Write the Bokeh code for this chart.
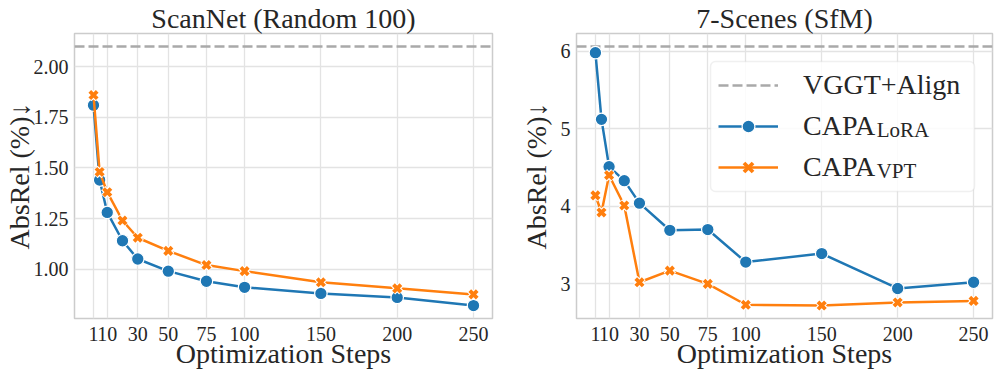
from bokeh.plotting import figure
from bokeh.layouts import row
from bokeh.models import (Range1d, FixedTicker, PrintfTickFormatter, Label,
                          Legend, LegendItem, ColumnDataSource, BoxAnnotation)
from bokeh.embed import file_html
from bokeh.resources import INLINE

# ---------------- data ----------------
steps = [1, 5, 10, 20, 30, 50, 75, 100, 150, 200, 250]
x_ticks = [1, 10, 30, 50, 75, 100, 150, 200, 250]

scannet_lora = [1.81, 1.44, 1.28, 1.14, 1.05, 0.99, 0.94, 0.91, 0.88, 0.86, 0.82]
scannet_vpt = [1.86, 1.48, 1.38, 1.24, 1.155, 1.09, 1.02, 0.99, 0.935, 0.905, 0.875]
scannet_vggt_align = 2.10
scannet_y_ticks = [1.00, 1.25, 1.50, 1.75, 2.00]

sevenscenes_lora = [5.98, 5.12, 4.51, 4.33, 4.04, 3.69, 3.70, 3.28, 3.39, 2.94, 3.02]
sevenscenes_vpt = [4.14, 3.92, 4.40, 4.01, 3.02, 3.17, 3.00, 2.73, 2.72, 2.76, 2.78]
sevenscenes_vggt_align = 6.06
sevenscenes_y_ticks = [3, 4, 5, 6]

titles = ["ScanNet (Random 100)", "7-Scenes (SfM)"]
x_label = "Optimization Steps"
y_label = "AbsRel (%)\u2193"
legend_labels = ["VGGT+Align", "CAPA", "CAPA"]
legend_subscripts = ["LoRA", "VPT"]

# ---------------- style ----------------
BLUE = "#1f77b4"
ORANGE = "#ff7f0e"
GRAY = "#a9a9a9"
TEXT = "#262626"
GRID = "#e3e3e3"
SPINE = "#cccccc"
FONT = "Liberation Serif"
H = 374
TOP = 32
BOTTOM = 56


def padded(lo, hi, frac=0.05):
    d = (hi - lo) * frac
    return lo - d, hi + d


def make_panel(title, lora, vpt, vggt, yticks, yfmt, width, left, right,
               ylabel_standoff, with_legend=False):
    xlo, xhi = padded(min(steps), max(steps))
    allv = lora + vpt + [vggt]
    ylo, yhi = padded(min(allv), max(allv))
    p = figure(width=width, height=H, x_range=Range1d(xlo, xhi),
               y_range=Range1d(ylo, yhi), output_backend="svg",
               toolbar_location=None, min_border_left=left,
               min_border_right=right, min_border_top=TOP,
               min_border_bottom=BOTTOM, title=title,
               x_axis_label=x_label, y_axis_label=y_label)
    p.background_fill_color = "white"
    p.border_fill_color = "white"
    p.outline_line_color = SPINE
    p.outline_line_width = 1.5

    p.title.text_font = FONT
    p.title.text_font_size = "28px"
    p.title.text_font_style = "normal"
    p.title.text_color = TEXT
    p.title.align = "center"
    p.title.standoff = 0

    p.xaxis.ticker = FixedTicker(ticks=x_ticks)
    p.yaxis.ticker = FixedTicker(ticks=yticks)
    p.yaxis.formatter = PrintfTickFormatter(format=yfmt)
    for ax in (p.xaxis[0], p.yaxis[0]):
        ax.axis_line_color = None
        ax.major_tick_line_color = None
        ax.minor_tick_line_color = None
        ax.major_tick_out = 0
        ax.major_tick_in = 0
        ax.minor_tick_out = 0
        ax.minor_tick_in = 0
        ax.major_label_text_font = FONT
        ax.major_label_text_font_size = "20px"
        ax.major_label_text_color = TEXT
        ax.axis_label_text_font = FONT
        ax.axis_label_text_font_size = "28px"
        ax.axis_label_text_font_style = "normal"
        ax.axis_label_text_color = TEXT
    p.xaxis.major_label_standoff = 8
    p.xaxis.axis_label_standoff = -6
    p.yaxis.major_label_standoff = 6
    p.yaxis.axis_label_standoff = ylabel_standoff
    p.xgrid.ticker = FixedTicker(ticks=x_ticks)
    p.ygrid.ticker = FixedTicker(ticks=yticks)
    for g in (p.xgrid[0], p.ygrid[0]):
        g.grid_line_color = GRID
        g.grid_line_width = 1.3

    # VGGT+Align reference line across the whole axis
    ref = p.line(x=[xlo, xhi], y=[vggt, vggt], line_color=GRAY,
                 line_dash="10 4", line_width=2.5)

    src = ColumnDataSource(dict(x=steps, lora=lora, vpt=vpt))
    lb = p.line("x", "lora", source=src, line_color=BLUE, line_width=2.5)
    sb = p.scatter("x", "lora", source=src, marker="circle", size=12.5,
                   fill_color=BLUE, line_color="white", line_width=1.2)
    lo_ = p.line("x", "vpt", source=src, line_color=ORANGE, line_width=2.5)
    p.scatter("x", "vpt", source=src, marker="x", size=11.5,
              line_color="white", line_width=6)
    so = p.scatter("x", "vpt", source=src, marker="x", size=10.5,
                   line_color=ORANGE, line_width=3.8)

    if with_legend:
        pad, gw, gh, st, sp = 8, 60, 32, 25, 9
        lx, ly = 134, 127
        rows_h = 3 * gh + 2 * sp + 2 * pad
        top = ly + rows_h
        # legend background box drawn separately so subscripts can sit on top
        p.add_layout(BoxAnnotation(left=lx, right=lx + 264, bottom=ly, top=top,
                                   left_units="screen", right_units="screen",
                                   bottom_units="screen", top_units="screen",
                                   fill_color="white", fill_alpha=0.85,
                                   line_color=SPINE, line_width=1.5,
                                   border_radius=5, editable=False))
        capa_w = 2.667 * 28
        for k, sub in enumerate(legend_subscripts, start=1):
            cy = top - pad - k * (gh + sp) - gh / 2
            p.add_layout(Label(x=lx + pad + gw + st + capa_w - 1.5, y=cy - 3,
                               x_units="screen", y_units="screen", text=sub,
                               text_font=FONT, text_font_size="21px",
                               text_color=TEXT, text_align="left",
                               text_baseline="alphabetic"))
        legend = Legend(items=[
            LegendItem(label=legend_labels[0], renderers=[ref]),
            LegendItem(label=legend_labels[1], renderers=[lb, sb]),
            LegendItem(label=legend_labels[2], renderers=[lo_, so]),
        ], location=(lx, ly))
        legend.label_text_font = FONT
        legend.label_text_font_size = "28px"
        legend.label_text_color = TEXT
        legend.border_line_alpha = 0
        legend.background_fill_alpha = 0
        legend.padding = pad
        legend.spacing = sp
        legend.glyph_width = gw
        legend.glyph_height = gh
        legend.label_height = gh
        legend.label_standoff = st
        legend.margin = 0
        p.add_layout(legend)
    return p


p1 = make_panel(titles[0], scannet_lora, scannet_vpt, scannet_vggt_align,
                scannet_y_ticks, "%.2f", 502, 74, 10, -4)
p2 = make_panel(titles[1], sevenscenes_lora, sevenscenes_vpt,
                sevenscenes_vggt_align, sevenscenes_y_ticks, "%d", 492, 74, 2,
                6, with_legend=True)

layout = row(p1, p2)
open("out.html", "w").write(file_html(layout, INLINE))
